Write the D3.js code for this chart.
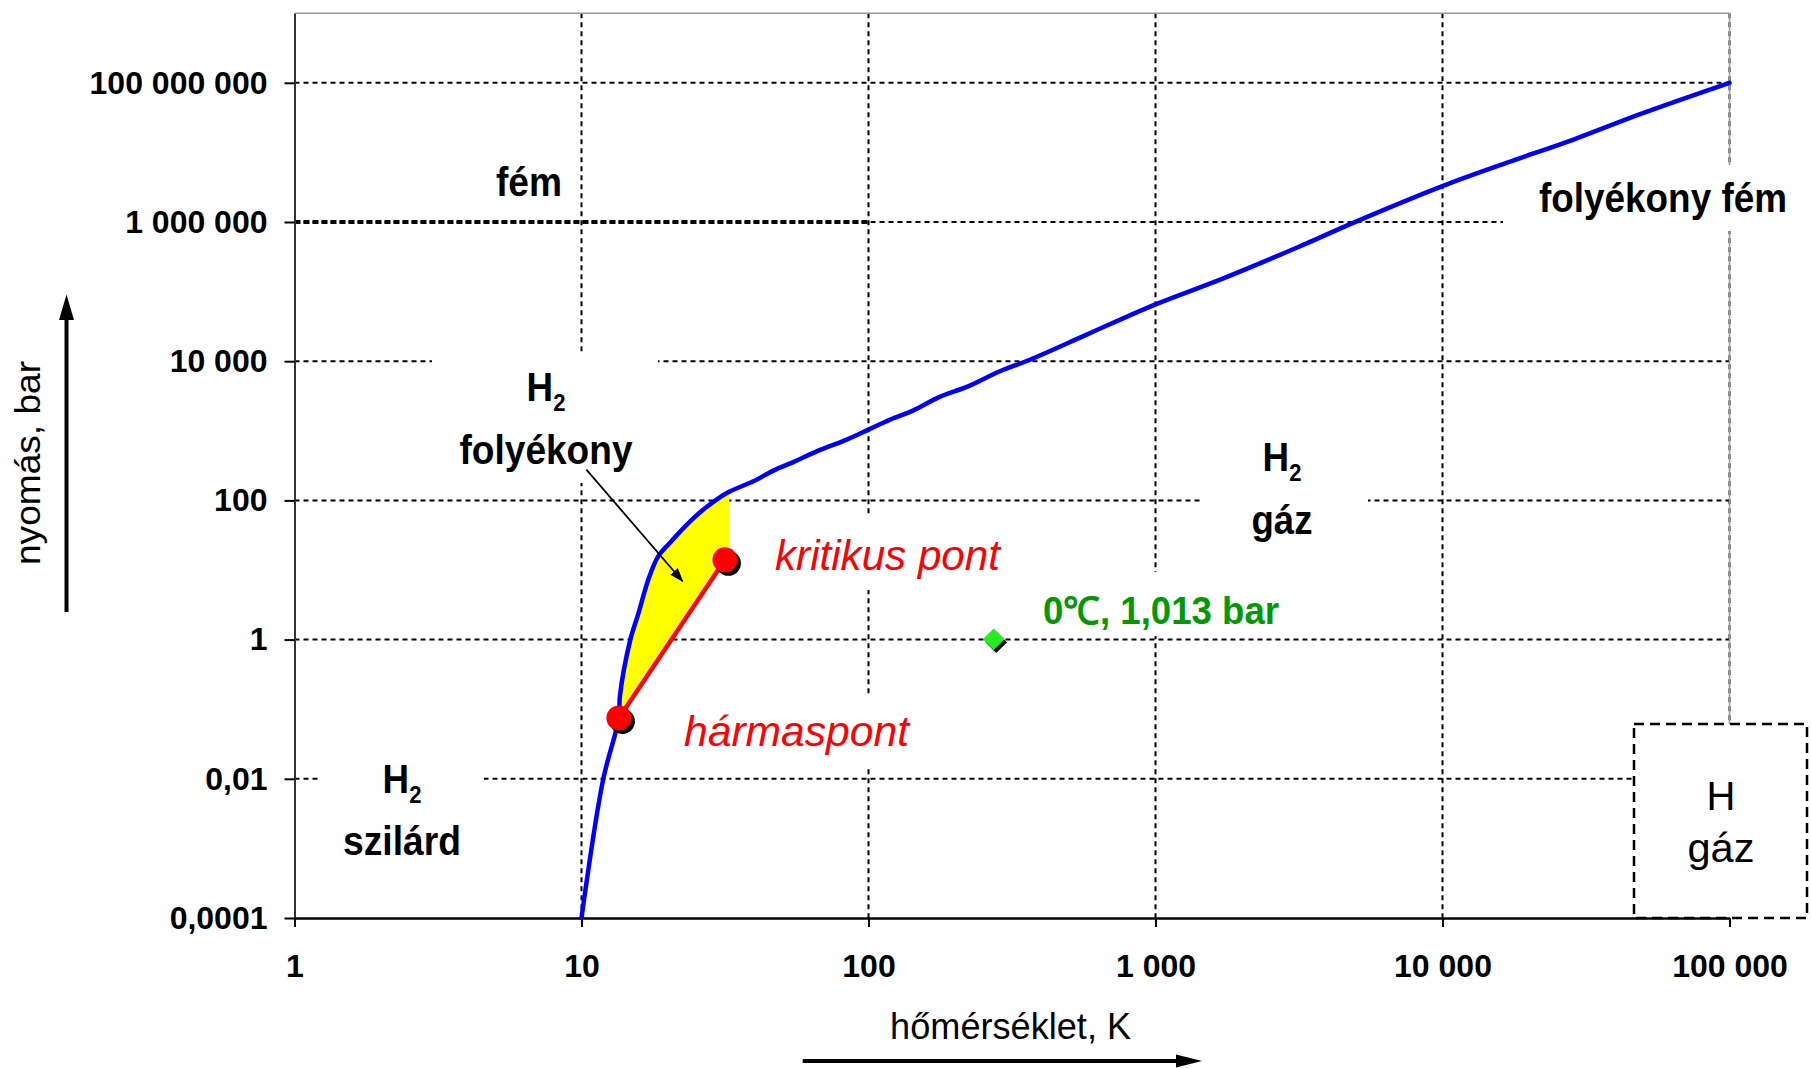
<!DOCTYPE html>
<html><head><meta charset="utf-8">
<script src="https://cdn.jsdelivr.net/npm/d3@7"></script>
<style>
html,body{margin:0;padding:0;background:#fff;}
svg{display:block;font-family:"Liberation Sans",Arial,sans-serif;}
</style></head><body>
<svg id="chart" width="1811" height="1069"></svg>
<script>
// ---------------- data ----------------
const xTickValues = [1, 10, 100, 1000, 10000, 100000];
const xTickLabels = ["1", "10", "100", "1 000", "10 000", "100 000"];
const yTickValues = [0.0001, 0.01, 1, 100, 10000, 1000000, 100000000];
const yTickLabels = ["0,0001", "0,01", "1", "100", "10 000", "1 000 000", "100 000 000"];
const xGridValues = [10, 100, 1000, 10000, 100000];
const yGridValues = [0.01, 1, 100, 10000, 1000000, 100000000];

// phase boundary (sublimation + melting + metallization) : T [K], P [bar]
const phaseT = [10, 11.9, 13.5, 13.6, 14.8, 15.8, 17.1, 18.5, 20.3, 23.3, 26.6, 32.1, 39.7, 46.6, 54.7, 66, 84, 100, 119, 143, 177, 220, 287, 365, 576, 995, 1680, 3190, 5020, 10100, 16700, 28600, 48800, 100000];
const phaseP = [0.0001, 0.0098, 0.075, 0.15, 1, 2.4, 7.3, 15.7, 24.5, 45, 74, 128, 188, 268, 355, 507, 748, 1040, 1450, 1950, 3070, 4270, 7160, 10500, 24100, 65000, 148700, 448000, 1020000, 3330000, 7060000, 15300000, 35500000, 100000000];

// liquid H2 region (yellow): boundary along the melting curve, then closing edge
const liquidT = [13.5, 13.6, 14.8, 15.8, 17.1, 18.5, 20.3, 23.3, 26.6, 32.1];
const liquidP = [0.075, 0.15, 1, 2.4, 7.3, 15.7, 24.5, 45, 74, 128];
const liquidEdgeT = [32.7, 32.7, 31.6];
const liquidEdgeP = [131, 20, 14];

// triple point & critical point
const pointNames = ["hármaspont", "kritikus pont"];
const pointT = [13.5, 31.6];
const pointP = [0.075, 14];

// normal conditions
const normalT = [273.15];
const normalP = [1.013];

// metallization pressure line
const metalP = 1000000;
const metalTRange = [1, 100];

// annotation arrow (T, P)
const arrowT = [10.4, 22.5];
const arrowP = [277, 6.9];

// ---------------- chart ----------------
const svg = d3.select("#chart");
const x = d3.scaleLog().domain([1, 100000]).range([294.5, 1729.5]);
const y = d3.scaleLog().domain([0.0001, 1e9]).range([918, 13.2]);

const defs = svg.append("defs");
defs.append("marker").attr("id", "ah").attr("markerUnits", "userSpaceOnUse")
  .attr("markerWidth", 14).attr("markerHeight", 10).attr("refX", 13).attr("refY", 5)
  .attr("orient", "auto")
  .append("path").attr("d", "M0,0 L14,5 L0,10 Z").attr("fill", "#000");

// grid
const grid = svg.append("g");
grid.selectAll(".hg").data(yGridValues).join("line")
  .attr("x1", x(1)).attr("x2", x(100000))
  .attr("y1", d => y(d)).attr("y2", d => y(d))
  .attr("stroke", "#000").attr("stroke-width", 2).attr("stroke-dasharray", "5,4");
grid.selectAll(".vg").data(xGridValues).join("line")
  .attr("x1", d => x(d)).attr("x2", d => x(d))
  .attr("y1", y(1e9)).attr("y2", y(0.0001))
  .attr("stroke", "#000").attr("stroke-width", 2).attr("stroke-dasharray", "5,4");
// metallization line (heavier)
svg.append("line")
  .attr("x1", x(metalTRange[0])).attr("x2", x(metalTRange[1]))
  .attr("y1", y(metalP)).attr("y2", y(metalP))
  .attr("stroke", "#000").attr("stroke-width", 4).attr("stroke-dasharray", "6,3");

// plot frame top/right
svg.append("line").attr("x1", x(1)).attr("x2", x(100000)).attr("y1", y(1e9)).attr("y2", y(1e9))
  .attr("stroke", "#999").attr("stroke-width", 1.5);
svg.append("line").attr("x1", x(100000)).attr("x2", x(100000)).attr("y1", y(1e9)).attr("y2", y(0.0001))
  .attr("stroke", "#999").attr("stroke-width", 1.5);

// white label backgrounds (hide grid)
const boxes = [
  [495, 150, 70, 65],     // fém
  [432, 352, 226, 131],   // H2 folyékony
  [318, 745, 166, 125],   // H2 szilárd
  [1200, 430, 168, 115],  // H2 gáz
  [1033, 572, 257, 64],   // 0°C label
  [765, 517, 240, 73],    // kritikus pont
  [674, 695, 248, 71],    // hármaspont
  [1503, 165, 308, 66]    // folyékony fém
];
svg.append("g").selectAll("rect").data(boxes).join("rect")
  .attr("x", d => d[0]).attr("y", d => d[1]).attr("width", d => d[2]).attr("height", d => d[3])
  .attr("fill", "#fff");

// H gáz dashed box
svg.append("rect").attr("x", 1634).attr("y", 724).attr("width", 173).attr("height", 194)
  .attr("fill", "#fff").attr("stroke", "#000").attr("stroke-width", 2.5).attr("stroke-dasharray", "10,6");

// axes
const yAxis = d3.axisLeft(y).tickValues(yTickValues).tickFormat((d, i) => yTickLabels[i])
  .tickSize(10).tickSizeOuter(0).tickPadding(17);
const gy = svg.append("g").attr("transform", `translate(${x(1)},0)`).call(yAxis);
gy.select(".domain").attr("stroke", "#333").attr("stroke-width", 2);
gy.selectAll(".tick line").attr("stroke", "#000").attr("stroke-width", 2);
gy.selectAll(".tick text").attr("font-size", 32).attr("font-weight", "bold").attr("fill", "#000")
  .attr("font-family", "'Liberation Sans',Arial,sans-serif");

const xAxis = d3.axisBottom(x).tickValues(xTickValues).tickFormat((d, i) => xTickLabels[i])
  .tickSize(9).tickSizeOuter(0).tickPadding(27);
const gx = svg.append("g").attr("transform", `translate(0,${y(0.0001)})`).call(xAxis);
gx.select(".domain").attr("stroke", "#000").attr("stroke-width", 2.5);
gx.selectAll(".tick line").attr("stroke", "#000").attr("stroke-width", 2);
gx.selectAll(".tick text").attr("font-size", 32).attr("font-weight", "bold").attr("fill", "#000")
  .attr("font-family", "'Liberation Sans',Arial,sans-serif");

// generators
const lineLin = d3.line().x(d => x(d.T)).y(d => y(d.P));
const lineSmooth = d3.line().x(d => x(d.T)).y(d => y(d.P)).curve(d3.curveCatmullRom.alpha(0.5));

// liquid region
const liquidCurve = liquidT.map((t, i) => ({T: t, P: liquidP[i]}));
const liquidEdge = liquidEdgeT.map((t, i) => ({T: t, P: liquidEdgeP[i]}));
const edgePath = liquidEdge.map(d => `L${x(d.T)},${y(d.P)}`).join("");
svg.append("path").attr("d", lineSmooth(liquidCurve) + edgePath + "Z")
  .attr("fill", "#FFFF00").attr("stroke", "none");

// phase boundary curve
const phase = phaseT.map((t, i) => ({T: t, P: phaseP[i]}));
svg.append("path").attr("d", lineSmooth(phase)).attr("fill", "none")
  .attr("stroke", "#0000FF").attr("stroke-width", 4.5).attr("stroke-linejoin", "round").attr("stroke-linecap", "round");

// vapor line triple -> critical
const pts = pointT.map((t, i) => ({T: t, P: pointP[i], name: pointNames[i]}));
svg.append("path").attr("d", lineLin(pts)).attr("fill", "none")
  .attr("stroke", "#FF0000").attr("stroke-width", 4.5);

// points with shadow
svg.append("g").selectAll("circle").data(pts).join("circle")
  .attr("cx", d => x(d.T) + 3.5).attr("cy", d => y(d.P) + 3.5).attr("r", 12.5).attr("fill", "#000");
svg.append("g").selectAll("circle").data(pts).join("circle")
  .attr("cx", d => x(d.T)).attr("cy", d => y(d.P)).attr("r", 12.5).attr("fill", "#FF0000");

// normal-condition diamond
const norm = normalT.map((t, i) => ({T: t, P: normalP[i]}));
const diamond = d3.symbol().type(d3.symbolSquare).size(230);
svg.append("g").selectAll("path").data(norm).join("path")
  .attr("d", diamond).attr("transform", d => `translate(${x(d.T) + 2.5},${y(d.P) + 3}) rotate(45)`)
  .attr("fill", "#000");
svg.append("g").selectAll("path").data(norm).join("path")
  .attr("d", diamond).attr("transform", d => `translate(${x(d.T)},${y(d.P)}) rotate(45)`)
  .attr("fill", "#22EE22");

// annotation arrow
svg.append("line")
  .attr("x1", x(arrowT[0])).attr("y1", y(arrowP[0]))
  .attr("x2", x(arrowT[1])).attr("y2", y(arrowP[1]))
  .attr("stroke", "#000").attr("stroke-width", 1.8).attr("marker-end", "url(#ah)");

// ---------------- texts ----------------
function txt(s, px, py, opts) {
  const t = svg.append("text").attr("x", px).attr("y", py).text(s)
    .attr("font-size", opts.size).attr("fill", opts.fill || "#000")
    .attr("font-weight", opts.weight || "normal")
    .attr("font-style", opts.style || "normal")
    .attr("text-anchor", opts.anchor || "middle");
  if (opts.len) t.attr("textLength", opts.len).attr("lengthAdjust", "spacingAndGlyphs");
  return t;
}
function h2(px, py) {
  const g = svg.append("g").attr("transform", `translate(${px},${py}) scale(0.92,1)`);
  const t = g.append("text").attr("text-anchor", "middle").attr("font-size", 40).attr("font-weight", "bold").attr("fill", "#000");
  t.append("tspan").text("H");
  t.append("tspan").text("2").attr("font-size", 24).attr("dy", 10);
}

txt("fém", 529, 196, {size: 40, weight: "bold", len: 66});
h2(546, 401);
txt("folyékony", 546, 464, {size: 40, weight: "bold", len: 173});
h2(1282, 471);
txt("gáz", 1282, 534, {size: 40, weight: "bold", len: 61});
h2(402, 793);
txt("szilárd", 402, 855, {size: 40, weight: "bold", len: 118});
txt("folyékony fém", 1663, 212, {size: 40, weight: "bold", len: 248});
txt("kritikus pont", 775, 570, {size: 42, style: "italic", fill: "#FF0000", anchor: "start", len: 225});
txt("hármaspont", 684, 746, {size: 42, style: "italic", fill: "#FF0000", anchor: "start", len: 225});
txt("0\u2103, 1,013 bar", 1043, 624, {size: 38, weight: "bold", fill: "#009900", anchor: "start", len: 236});
txt("H", 1721, 810, {size: 40});
txt("gáz", 1721, 862, {size: 40, len: 67});

// axis titles
txt("hőmérséklet, K", 1010.6, 1039, {size: 36, len: 241});
svg.append("text").attr("transform", "translate(40,463) rotate(-90)")
  .attr("text-anchor", "middle").attr("font-size", 35).attr("fill", "#000")
  .attr("textLength", 204).attr("lengthAdjust", "spacingAndGlyphs").text("nyomás, bar");

// axis direction arrows
svg.append("line").attr("x1", 66.5).attr("x2", 66.5).attr("y1", 612).attr("y2", 316)
  .attr("stroke", "#000").attr("stroke-width", 4);
svg.append("path").attr("d", "M66.5,294.5 L74,320 L59,320 Z").attr("fill", "#000");
svg.append("line").attr("x1", 802.7).attr("x2", 1180).attr("y1", 1061).attr("y2", 1061)
  .attr("stroke", "#000").attr("stroke-width", 4);
svg.append("path").attr("d", "M1202,1061 L1176,1054.5 L1176,1067.5 Z").attr("fill", "#000");
</script>
</body></html>
